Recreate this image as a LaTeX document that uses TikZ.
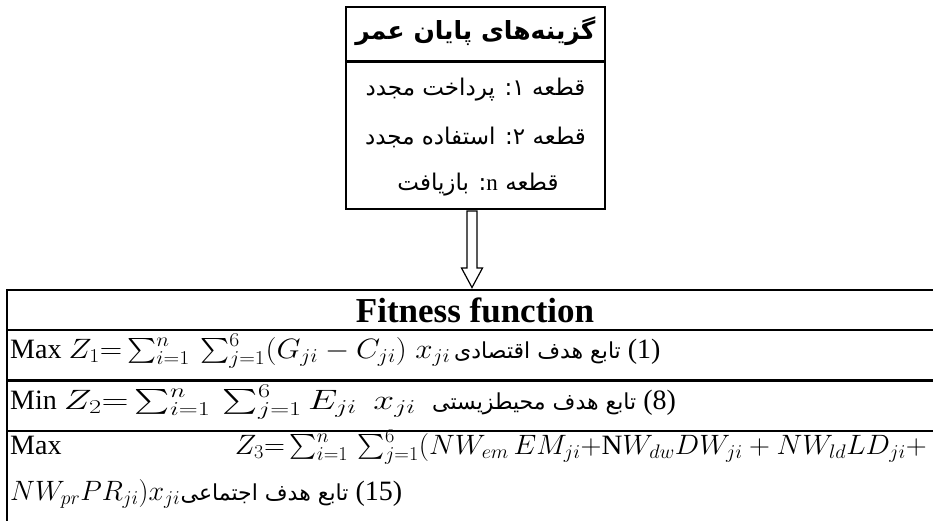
\RequirePackage{fix-cm}
\documentclass[tikz,border=0pt]{standalone}
\usepackage{exscale}
\usepackage{graphicx}
\usepackage{fontspec}
\setmainfont{Liberation Serif}
\newfontfamily\fa[Script=Arabic]{DejaVu Sans}
\TeXXeTstate=1
\begin{document}
\begin{tikzpicture}[x=1pt,y=-1pt,
  frame/.style={line width=2.2pt},
  rule/.style={line width=2.2pt},
  fatitle/.style={anchor=base,font=\fa\bfseries\fontsize{25}{29}\selectfont,inner sep=0pt},
  faitem/.style={anchor=base,font=\fa\fontsize{23}{27}\selectfont,inner sep=0pt},
  rowtext/.style={anchor=base west,font=\fontsize{28}{32}\selectfont,inner sep=0pt},
  farow/.style={anchor=base west,font=\fontsize{28}{32}\selectfont,inner sep=0pt},
  hdr/.style={anchor=base,font=\bfseries\fontsize{35}{39}\selectfont,inner sep=0pt}]
\useasboundingbox (0,0) rectangle (933,521);
\fill[white] (0,0) rectangle (933,521);
% top box
\draw[frame] (346,7) rectangle (605,209);
\draw[frame] (346,61.5) -- (605,61.5);
\node[fatitle] (title) at (475.5,40) {\beginR گزینه‌های پایان عمر\endR};
\node[faitem] (it1) at (475.5,96) {\beginR قطعه ۱: پرداخت مجدد\endR};
\node[faitem] (it2) at (475.5,145) {\beginR قطعه ۲: استفاده مجدد\endR};
\node[faitem] (it3) at (478,191) {\beginR قطعه {\rmfamily n}: بازیافت\endR};
% arrow
\coordinate (atop) at (472,211);
\coordinate (atip) at (472,287.5);
\draw[line width=1.2pt,line join=miter] ([xshift=-5pt]atop) -- (467,268) -- (461.5,268) -- (atip) -- (482.5,268) -- (477,268) -- ([xshift=5pt]atop) -- cycle;
% table
\draw[rule] (7,290) -- (933,290);
\draw[rule] (7,330) -- (933,330);
\draw[rule] (7,380.5) -- (933,380.5);
\draw[rule] (7,431) -- (933,431);
\draw[rule] (7,288.9) -- (7,521);
\node[hdr] (head) at (475,322) {Fitness function};
% row 1
\node[rowtext] (r1) at (10,358) {Max \resizebox{382pt}{\height}{$Z_1{=}\sum_{i=1}^{n}\,\sum_{j=1}^{6}(G_{ji}-C_{ji})\;x_{ji}$}};
\node[farow] (r1f) at (454,358) {{\fa\fontsize{22}{26}\selectfont\beginR تابع هدف اقتصادی\endR} (1)};
% row 2
\node[rowtext] (r2) at (10,409) {Min \resizebox{352pt}{\height}{$Z_2{=}\sum_{i=1}^{n}\,\sum_{j=1}^{6}E_{ji}\;\,x_{ji}$}};
\node[farow] (r2f) at (432,409) {{\fa\fontsize{22}{26}\selectfont\beginR تابع هدف محیطزیستی\endR} (8)};
% row 3
\node[rowtext] (r3a) at (10,454) {Max};
\node[rowtext,anchor=base east] (r3b) at (927,454) {\resizebox{692pt}{\height}{$Z_3{=}\sum_{i=1}^{n}\,\sum_{j=1}^{6}(NW_{em}\,EM_{ji}{+}\mathrm{N}W_{dw}DW_{ji}+NW_{ld}LD_{ji}+$}};
\node[rowtext] (r3c) at (10,500) {$NW_{pr}PR_{ji})x_{ji}$};
\node[farow] (r3f) at (r3c.base east) {{\fa\fontsize{22}{26}\selectfont\beginR تابع هدف اجتماعی\endR} (15)};
\end{tikzpicture}
\end{document}
